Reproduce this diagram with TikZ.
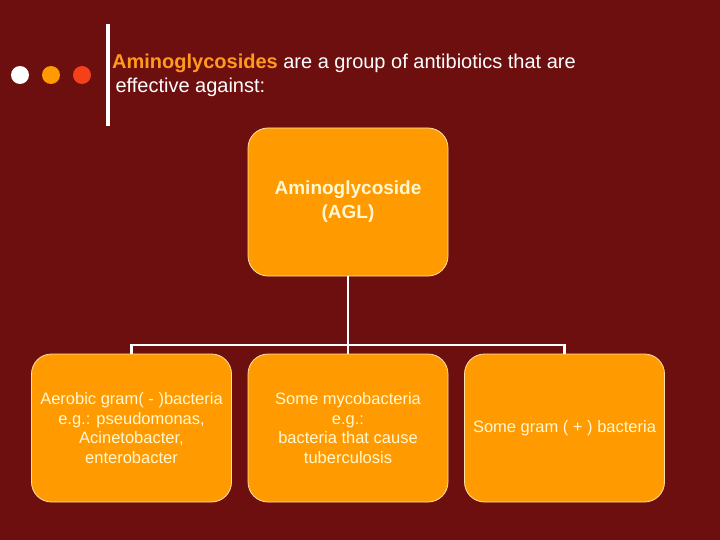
\documentclass[tikz,border=0pt]{standalone}
\usepackage{fontspec}
\setmainfont{Liberation Sans}
\usepackage{xcolor}
\usetikzlibrary{positioning,calc}
\definecolor{slidebg}{HTML}{6D0F0F}
\definecolor{boxorange}{HTML}{FF9A00}
\definecolor{boxedge}{HTML}{FFE2A6}
\definecolor{boxtext}{HTML}{FFF8D2}
\definecolor{titleorange}{HTML}{FF9A1E}
\definecolor{dotred}{HTML}{F5401A}
\tikzset{
  box/.style={draw=boxedge, line width=0.8pt, fill=boxorange, rounded corners=20pt, align=center,
    text=boxtext, minimum width=200pt, minimum height=148pt, inner sep=2pt},
  rootbox/.style={box, font=\fontsize{19}{24}\selectfont\bfseries},
  leafbox/.style={box, font=\fontsize{16.5}{19.5}\selectfont},
  link/.style={draw=white, line width=2.6pt},
  dot/.style={circle, minimum size=18pt, inner sep=0pt}
}
\begin{document}
\begin{tikzpicture}[x=1pt,y=-1pt]
  \fill[slidebg] (0,0) rectangle (720,540);
  \useasboundingbox (0,0) rectangle (720,540);

  % bullets and title
  \node[dot, fill=white] (d1) at (20,75) {};
  \node[dot, fill=boxorange] (d2) at (51,75) {};
  \node[dot, fill=dotred] (d3) at (82,75) {};
  \fill[white] (106,24) rectangle (110,126);
  \node[anchor=west, text=white, font=\fontsize{20}{24}\selectfont, align=left, inner sep=0pt] (title) at (112,75)
    {\textcolor{titleorange}{\bfseries Aminoglycosides} are a group of antibiotics that are\\ \,effective against:};

  % boxes
  \node[rootbox] (agl) at (348,202) {Aminoglycoside\\(AGL)};
  \node[leafbox] (gneg) at (131.5,428) {Aerobic gram( - )bacteria\\e.g.: pseudomonas,\\Acinetobacter,\\enterobacter};
  \node[leafbox] (myco) at (348,428) {Some mycobacteria\\e.g.:\\bacteria that cause\\tuberculosis};
  \node[leafbox] (gpos) at (564.5,428) {Some gram ( + ) bacteria};

  % connectors
  \coordinate (bus) at (348,345);
  \draw[link] (agl.south) -- (bus);
  \draw[link] (gneg.north) |- (bus) -| (gpos.north);
  \draw[link] (myco.north) -- (myco.north |- bus);
\end{tikzpicture}
\end{document}
